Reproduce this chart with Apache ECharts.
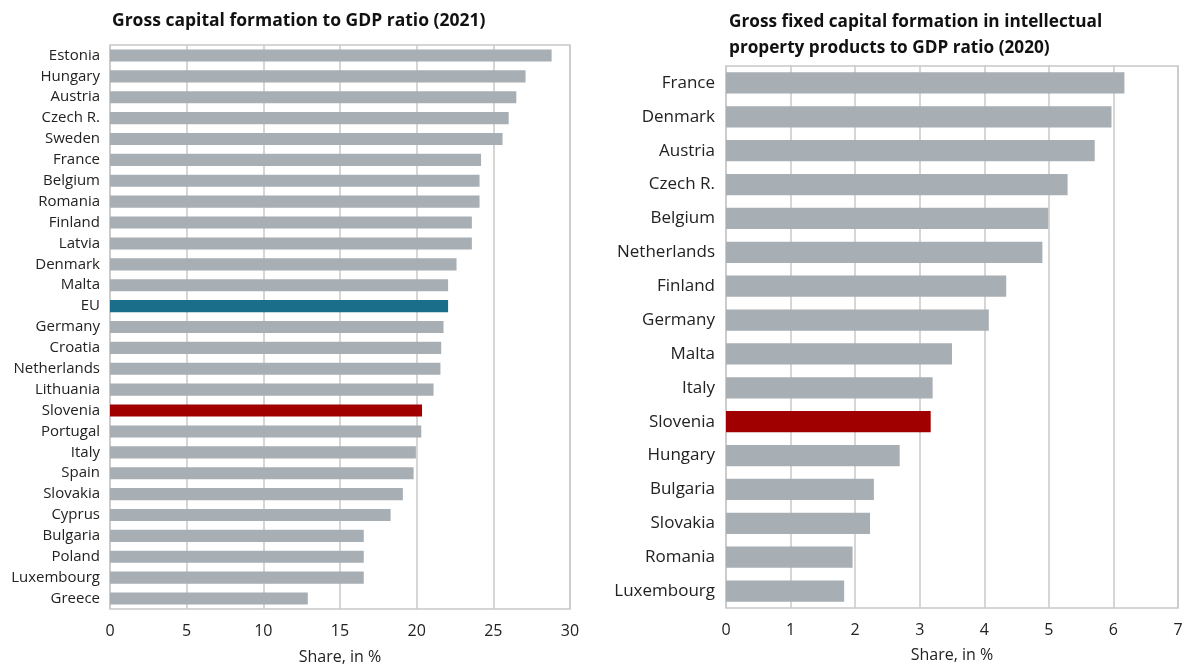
<!DOCTYPE html>
<html><head><meta charset="utf-8">
<script src="https://cdn.jsdelivr.net/npm/echarts@6/dist/echarts.min.js"></script>
<style>html,body{margin:0;padding:0;background:#fff}#c{width:1193px;height:667px}</style>
</head><body><div id="c"></div>
<script>
const leftTitle = 'Gross capital formation to GDP ratio (2021)';
const leftCategories = ['Estonia','Hungary','Austria','Czech R.','Sweden','France','Belgium','Romania','Finland','Latvia','Denmark','Malta','EU','Germany','Croatia','Netherlands','Lithuania','Slovenia','Portugal','Italy','Spain','Slovakia','Cyprus','Bulgaria','Poland','Luxembourg','Greece'];
const leftValues = [28.8,27.1,26.5,26.0,25.6,24.2,24.1,24.1,23.6,23.6,22.6,22.05,22.05,21.75,21.6,21.55,21.1,20.35,20.3,19.95,19.8,19.1,18.3,16.55,16.55,16.55,12.9];
const leftTicks = [0,5,10,15,20,25,30];

const rightTitle = 'Gross fixed capital formation in intellectual\nproperty products to GDP ratio (2020)';
const rightCategories = ['France','Denmark','Austria','Czech R.','Belgium','Netherlands','Finland','Germany','Malta','Italy','Slovenia','Hungary','Bulgaria','Slovakia','Romania','Luxembourg'];
const rightValues = [6.17,5.97,5.71,5.29,4.99,4.90,4.34,4.07,3.50,3.20,3.17,2.69,2.29,2.23,1.96,1.83];
const rightTicks = [0,1,2,3,4,5,6,7];

const axisName = 'Share, in %';
const GREY = '#a7aeb4', EU = '#1a6e8a', SI = '#a00000';
function colorFor(c){ return c === 'EU' ? EU : (c === 'Slovenia' ? SI : GREY); }
const FONT = '"Open Sans", "Noto Sans", sans-serif';

const chart = echarts.init(document.getElementById('c'));
chart.setOption({
  animation: false,
  title: [
    {text: leftTitle, left: 107, top: 7, textStyle:{fontFamily:FONT, fontWeight:'bold', fontSize:17.5, color:'#111'}},
    {text: rightTitle, left: 724, top: 4, textStyle:{fontFamily:FONT, fontWeight:'bold', fontSize:17.2, color:'#111', lineHeight:26}}
  ],
  grid: [
    {left:110, right:623, top:45, bottom:58, show:true, borderColor:'#c8c8c8', borderWidth:1.5, containLabel:false, outerBoundsMode:'none'},
    {left:726, right:15, top:66, bottom:59, show:true, borderColor:'#c8c8c8', borderWidth:1.5, containLabel:false, outerBoundsMode:'none'}
  ],
  xAxis: [
    {gridIndex:0, type:'value', min:leftTicks[0], max:leftTicks[leftTicks.length-1], interval:5,
     name:axisName, nameLocation:'middle', nameGap:40, nameTextStyle:{fontFamily:FONT, fontSize:16, color:'#222'},
     axisLine:{show:false}, axisTick:{show:false},
     axisLabel:{fontFamily:FONT, fontSize:16, color:'#222', margin:14},
     splitLine:{lineStyle:{color:'#c8c8c8', width:1.5}}},
    {gridIndex:1, type:'value', min:rightTicks[0], max:rightTicks[rightTicks.length-1], interval:1,
     name:axisName, nameLocation:'middle', nameGap:39, nameTextStyle:{fontFamily:FONT, fontSize:16, color:'#222'},
     axisLine:{show:false}, axisTick:{show:false},
     axisLabel:{fontFamily:FONT, fontSize:16, color:'#222', margin:14},
     splitLine:{lineStyle:{color:'#c8c8c8', width:1.5}}}
  ],
  yAxis: [
    {gridIndex:0, type:'category', data:leftCategories, inverse:true,
     axisLine:{show:false}, axisTick:{show:false},
     axisLabel:{fontFamily:FONT, fontSize:15, color:'#222', margin:10}},
    {gridIndex:1, type:'category', data:rightCategories, inverse:true,
     axisLine:{show:false}, axisTick:{show:false},
     axisLabel:{fontFamily:FONT, fontSize:17, color:'#222', margin:11}}
  ],
  series: [
    {type:'bar', xAxisIndex:0, yAxisIndex:0, barCategoryGap:'42%',
     data: leftValues.map((v,i)=>({value:v, itemStyle:{color:colorFor(leftCategories[i])}}))},
    {type:'bar', xAxisIndex:1, yAxisIndex:1, barCategoryGap:'37%',
     data: rightValues.map((v,i)=>({value:v, itemStyle:{color:colorFor(rightCategories[i])}}))}
  ]
});
</script></body></html>
